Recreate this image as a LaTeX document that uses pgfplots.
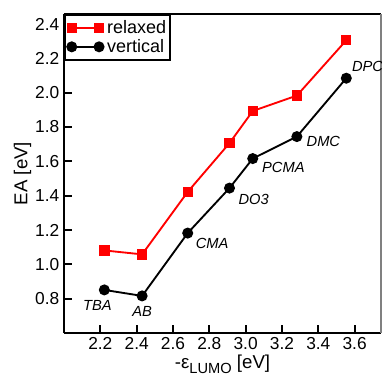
\documentclass[border=0pt]{standalone}
\usepackage{pgfplots}
\pgfplotsset{compat=1.18}
\usepackage{fontspec}
\setmainfont{Liberation Sans}
\begin{document}
\begin{tikzpicture}[x=0.75pt,y=0.75pt]
\begin{axis}[
  name=ax,
  scale only axis,
  width=237.75pt, height=239.25pt,
  xmin=2.0, xmax=3.745,
  ymin=0.6, ymax=2.458,
  xtick={2.2,2.4,...,3.6},
  ytick={0.8,1.0,...,2.4},
  x tick label style={/pgf/number format/.cd,fixed,fixed zerofill,precision=1},
  y tick label style={/pgf/number format/.cd,fixed,fixed zerofill,precision=1},
  /pgf/number format/assume math mode=true,
  tick label style={font=\fontsize{13}{15}\selectfont},
  label style={font=\fontsize{14}{16}\selectfont},
  xtick pos=bottom, ytick pos=left,
  tick align=inside,
  major tick length=6pt,
  axis line style={line width=1.8pt},
  every tick/.style={black,line width=1.3pt},
  axis x line*=bottom, axis y line*=left,
  xlabel={-ε\raisebox{-0.45ex}{\fontsize{11}{12}\selectfont LUMO} [eV]},
  ylabel={EA [eV]},
  xlabel style={yshift=3pt},
  ylabel style={yshift=-4pt},
  legend style={font=\fontsize{13.5}{14}\selectfont, draw=black, line width=1.4pt, inner xsep=1pt, inner ysep=2pt, row sep=-1pt, at={(0,1)}, anchor=north west, legend cell align=left},
  legend image code/.code={\path (-0.12cm,0) (0.84cm,0); \draw[#1,line width=1.3pt] (0cm,0cm) -- (0.72cm,0cm); \draw[#1,mark repeat=1] plot coordinates {(0cm,0cm) (0.72cm,0cm)};},
  clip=false,
]
\addplot[red, line width=1.4pt, mark=square*, mark size=3.2pt, mark options={solid}] coordinates {
 (2.222,1.081) (2.430,1.058) (2.681,1.422) (2.911,1.706) (3.039,1.893) (3.282,1.983) (3.554,2.305)};
\addlegendentry{relaxed}
\addplot[black, line width=1.4pt, mark=*, mark size=3.4pt] coordinates {
 (2.222,0.851) (2.430,0.816) (2.681,1.182) (2.911,1.444) (3.039,1.616) (3.282,1.744) (3.554,2.084)};
\addlegendentry{vertical}
\draw[line width=1.8pt] (rel axis cs:0,1) -- (rel axis cs:1,1);
\draw[line width=1pt, gray] (rel axis cs:1,1) -- (rel axis cs:1,0);
\begin{scope}[font=\itshape\fontsize{11}{12}\selectfont]
\node at (axis cs:2.184,0.76) {TBA};
\node at (axis cs:2.43,0.725) {AB};
\node[anchor=west] at (axis cs:2.700,1.122) {CMA};
\node[anchor=west] at (axis cs:2.935,1.38) {DO3};
\node[anchor=west] at (axis cs:3.065,1.563) {PCMA};
\node[anchor=west] at (axis cs:3.31,1.716) {DMC};
\node[anchor=west] at (axis cs:3.56,2.155) {DPC};
\end{scope}
\end{axis}
\pgfresetboundingbox
\path (ax.south west)++(-64,-54) coordinate (bl);
\path (ax.north east)++(1,14) coordinate (tr);
\useasboundingbox (bl) rectangle (tr);
\end{tikzpicture}
\end{document}
